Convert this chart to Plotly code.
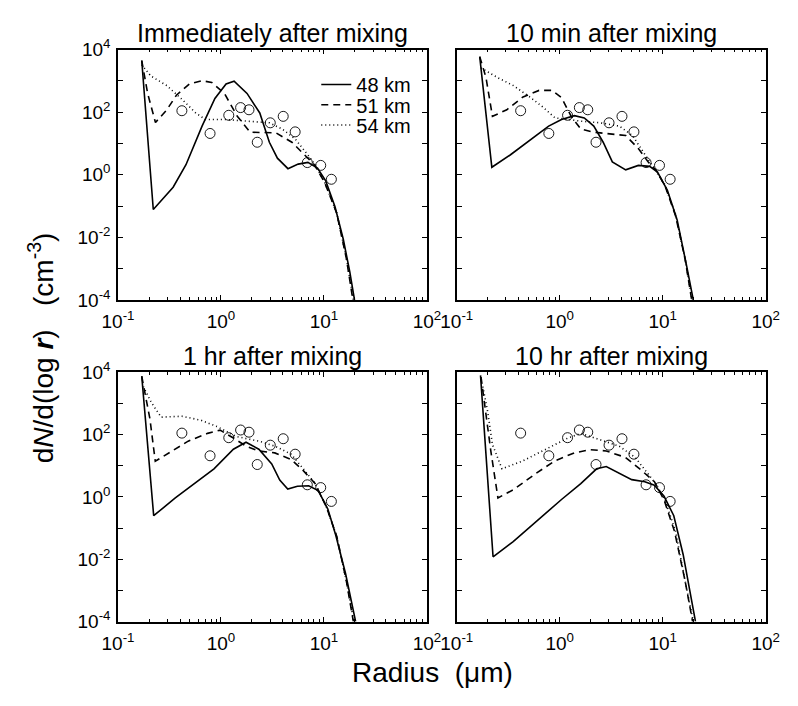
import plotly.graph_objects as go

# ---------------- data ----------------
panel_titles = ["Immediately after mixing", "10 min after mixing",
                "1 hr after mixing", "10 hr after mixing"]
series_names = ["48 km", "51 km", "54 km"]

x_tickvals = [0.1, 1, 10, 100]
x_ticktext = ["10<sup>-1</sup>", "10<sup>0</sup>", "10<sup>1</sup>", "10<sup>2</sup>"]
x_minor = [0.2, 0.3, 0.4, 0.5, 0.6, 0.7, 0.8, 0.9,
           2, 3, 4, 5, 6, 7, 8, 9, 20, 30, 40, 50, 60, 70, 80, 90]
y_tickvals = [1e-4, 1e-3, 1e-2, 1e-1, 1, 10, 100, 1e3, 1e4]
y_ticktext = ["10<sup>-4</sup>", "", "10<sup>-2</sup>", "", "10<sup>0</sup>", "",
              "10<sup>2</sup>", "", "10<sup>4</sup>"]

# observations (open circles, same in every panel)
obs_r = [0.417, 0.783, 1.19, 1.55, 1.87, 2.25, 3.01, 4.02, 5.25, 6.89, 9.3, 11.8]
obs_n = [112, 21, 80, 141, 120, 11, 46, 74, 23.6, 2.46, 2.0, 0.72]

# Panel 1: immediately after mixing
r1_48 = [0.17, 0.22, 0.343, 0.457, 0.655, 0.873, 1.12, 1.34, 1.79, 2.38, 2.95, 3.53, 4.47, 5.62, 6.98, 8.65, 10.4, 12.8, 15.4, 17.8, 19.8]
n1_48 = [4500, 0.078, 0.4, 2.1, 36, 275, 800, 980, 400, 95, 11, 3.4, 1.57, 2.2, 2.5, 1.65, 0.64, 0.095, 0.0087, 8e-4, 1e-4]
r1_51 = [0.17, 0.194, 0.231, 0.298, 0.369, 0.492, 0.655, 0.813, 1.08, 1.44, 1.92, 2.56, 3.41, 4.88, 6.5, 8.07, 10.2, 13.3, 16.5, 19.1]
n1_51 = [4500, 400, 47, 120, 350, 800, 1020, 900, 400, 74, 23, 23, 22, 11, 4.3, 2.1, 0.55, 0.059, 0.0021, 1e-4]
r1_54 = [0.17, 0.208, 0.298, 0.426, 0.568, 0.705, 1.08, 1.79, 2.95, 3.94, 5.25, 6.98, 8.3, 10.2, 13.3, 16.5, 19.3]
n1_54 = [3300, 1450, 710, 245, 95, 59, 59, 52, 46, 29, 14, 4.3, 2.0, 0.55, 0.06, 0.0022, 1e-4]

# Panel 2: 10 min after mixing
r2_48 = [0.167, 0.219, 0.33, 0.508, 0.78, 1.04, 1.39, 1.73, 2.14, 2.64, 3.24, 4.37, 5.8, 7.46, 8.9, 11.1, 13.8, 17.0, 19.8]
n2_48 = [6000, 1.74, 4.3, 12.4, 36, 59, 78, 66, 36, 11, 2.6, 1.44, 2.0, 1.86, 1.23, 0.32, 0.036, 0.0013, 1e-4]
r2_51 = [0.167, 0.192, 0.222, 0.306, 0.44, 0.63, 0.84, 1.04, 1.29, 1.6, 2.14, 3.06, 4.37, 5.8, 7.2, 8.6, 10.5, 13.3, 16.5, 19.1]
n2_51 = [6000, 1300, 74, 120, 310, 500, 500, 295, 74, 29, 23, 20, 18, 6.9, 2.6, 1.4, 0.45, 0.05, 0.002, 1e-4]
r2_54 = [0.172, 0.247, 0.355, 0.51, 0.68, 0.90, 1.2, 1.6, 2.48, 3.8, 5.08, 6.77, 8.4, 10.4, 13.3, 16.5, 19.3]
n2_54 = [2600, 1300, 710, 310, 150, 66, 59, 52, 46, 36, 18, 4.3, 1.6, 0.5, 0.055, 0.002, 1e-4]

# Panel 3: 1 hr after mixing
r3_48 = [0.17, 0.222, 0.36, 0.556, 0.855, 1.32, 1.75, 2.33, 3.11, 3.72, 4.45, 5.52, 7.1, 8.8, 10.9, 13.0, 16.2, 20.3]
n3_48 = [7500, 0.25, 0.93, 2.7, 8, 34, 57, 34, 11.5, 3.5, 1.8, 2.2, 2.3, 1.6, 0.41, 0.06, 0.0035, 1e-4]
r3_51 = [0.17, 0.204, 0.23, 0.313, 0.48, 0.74, 0.98, 1.32, 1.75, 2.33, 3.33, 4.8, 6.3, 8.2, 10.5, 13.3, 16.5, 19.3]
n3_51 = [7500, 325, 14, 26, 62, 110, 140, 78, 43, 30, 26, 16, 7, 2.7, 0.5, 0.055, 0.002, 1e-4]
r3_54 = [0.176, 0.211, 0.262, 0.417, 0.64, 0.92, 1.41, 2.33, 3.33, 4.8, 6.3, 8.2, 10.5, 13.3, 16.5, 19.5]
n3_54 = [3500, 1070, 365, 390, 290, 180, 87, 62, 43, 23.6, 8, 2.7, 0.5, 0.055, 0.002, 1e-4]

# Panel 4: 10 hr after mixing
r4_48 = [0.17, 0.225, 0.353, 0.583, 1.04, 1.6, 2.28, 2.83, 3.77, 5.0, 6.7, 8.3, 10.3, 12.8, 15.8, 20.8]
n4_48 = [8000, 0.012, 0.037, 0.16, 0.83, 2.7, 8, 9.5, 5.9, 3.6, 3.1, 2.4, 1.05, 0.25, 0.014, 1e-4]
r4_51 = [0.172, 0.214, 0.251, 0.353, 0.583, 0.90, 1.38, 1.98, 2.83, 4.35, 6.2, 8.3, 10.3, 13.0, 16.5, 19.5]
n4_51 = [7100, 30, 0.93, 1.7, 5.6, 14.5, 26, 33, 30, 18.6, 7.2, 3.1, 0.8, 0.08, 0.002, 1e-4]
r4_54 = [0.179, 0.2, 0.222, 0.275, 0.44, 0.72, 1.2, 1.6, 2.45, 3.77, 5.4, 7.2, 8.6, 10.5, 13.3, 16.5, 19.8]
n4_54 = [3500, 520, 48, 8, 14.5, 33, 78, 110, 69, 43, 18.6, 5.6, 2.6, 0.8, 0.08, 0.002, 1e-4]

panels = [
    [(r1_48, n1_48), (r1_51, n1_51), (r1_54, n1_54)],
    [(r2_48, n2_48), (r2_51, n2_51), (r2_54, n2_54)],
    [(r3_48, n3_48), (r3_51, n3_51), (r3_54, n3_54)],
    [(r4_48, n4_48), (r4_51, n4_51), (r4_54, n4_54)],
]

# ---------------- layout ----------------
W, H = 798, 706
FONT = "Liberation Sans, Arial, Helvetica, sans-serif"
xdoms = [(106 / W, 427 / W), (458 / W, 779 / W)]
ydoms = [((H - 297) / H, (H - 38) / H), ((H - 630) / H, (H - 372) / H)]
title_centers = [21, 355]
styles = [dict(dash="solid", width=1.6),
          dict(dash="7px,5px", width=1.6),
          dict(dash="1px,3px", width=1.6)]
legend_ids = ["legend", "legend2", "legend3"]
legend_rows = [74, 95, 116]

fig = go.Figure()
layout = dict(width=W, height=H, margin=dict(l=0, r=0, t=0, b=0),
              paper_bgcolor="white", plot_bgcolor="white",
              font=dict(family=FONT, color="black", size=19),
              showlegend=True)

annotations = []
for i in range(4):
    row, col = divmod(i, 2)
    ax = "" if i == 0 else str(i + 1)
    xa, ya = "x" + ax, "y" + ax
    for j, (r, n) in enumerate(panels[i]):
        fig.add_trace(go.Scatter(x=r, y=n, mode="lines", name=series_names[j],
                                 line=dict(color="black", **styles[j]),
                                 xaxis=xa, yaxis=ya, showlegend=(i == 0),
                                 legend=legend_ids[j]))
    fig.add_trace(go.Scatter(x=obs_r, y=obs_n, mode="markers", name="obs",
                             marker=dict(symbol="circle-open", size=10,
                                         color="black", line=dict(width=0.9)),
                             xaxis=xa, yaxis=ya, showlegend=False))
    common = dict(type="log", showline=True, linecolor="black", linewidth=1.5,
                  mirror="allticks", ticks="inside", tickcolor="black",
                  showgrid=False, zeroline=False, tickfont=dict(size=19))
    layout["xaxis" + ax] = dict(common, domain=list(xdoms[col]), range=[-1, 2],
                                anchor=ya, tickvals=x_tickvals, ticktext=x_ticktext,
                                ticklen=5, ticklabelstandoff=4,
                                minor=dict(tickvals=x_minor, ticks="inside",
                                           ticklen=3, tickcolor="black"))
    layout["yaxis" + ax] = dict(common, domain=list(ydoms[row]), range=[-4, 4],
                                anchor=xa, tickvals=y_tickvals, ticktext=y_ticktext,
                                ticklen=5, ticklabelstandoff=2,
                                showticklabels=(col == 0))
    annotations.append(dict(text=panel_titles[i], xref="paper", yref="paper",
                            x=sum(xdoms[col]) / 2, y=(H - title_centers[row]) / H,
                            xanchor="center", yanchor="middle",
                            showarrow=False, font=dict(size=25)))

annotations.append(dict(text="Radius\u00a0\u00a0(\u03bcm)", xref="paper", yref="paper",
                        x=433 / W, y=(H - 683) / H, xanchor="center", yanchor="middle",
                        showarrow=False, font=dict(size=28)))
annotations.append(dict(text="d<i>N</i>/d(log <b><i>r</i></b>)\u00a0\u00a0\u00a0(cm<sup>-3</sup>)",
                        xref="paper", yref="paper", textangle=-90,
                        x=26 / W, y=(H - 347) / H, xanchor="center", yanchor="middle",
                        showarrow=False, font=dict(size=28)))
layout["annotations"] = annotations
for j, lid in enumerate(legend_ids):
    layout[lid] = dict(x=312 / W, y=(H - legend_rows[j]) / H, xanchor="left",
                       yanchor="middle", bgcolor="rgba(0,0,0,0)",
                       font=dict(size=20), itemwidth=30)
fig.update_layout(**layout)
fig.write_html("out.html")
